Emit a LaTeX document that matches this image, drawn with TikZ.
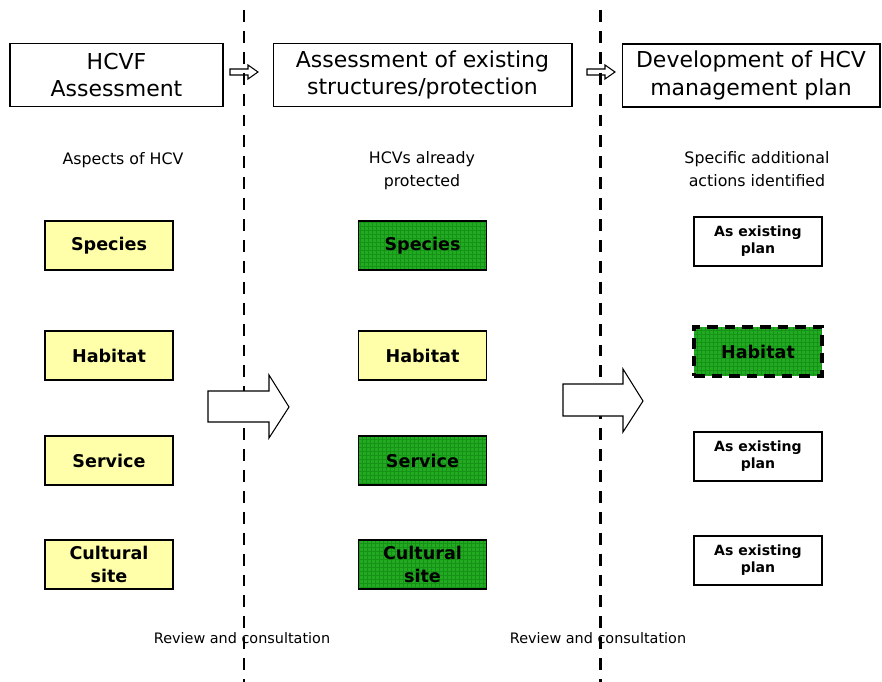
\documentclass[tikz,border=0pt]{standalone}
\usepackage{fontspec}
\setmainfont{DejaVu Sans}
\definecolor{paleyellow}{RGB}{255,255,170}
\definecolor{hcvgreen}{RGB}{34,170,34}
\begin{document}
\begin{tikzpicture}[x=0.02cm,y=-0.02cm,
	head/.style={draw,line width=0.6pt,minimum height=1.26cm,align=center,font=\fontsize{12.5}{15.5}\selectfont},
	aspect/.style={draw,line width=0.6pt,fill=paleyellow,minimum width=2.56cm,minimum height=0.98cm,align=center,font=\bfseries\fontsize{10}{13.5}\selectfont},
	kept/.style={aspect,fill=hcvgreen,path picture={\draw[solid,green!40!black,opacity=0.35,line width=0.3pt,step=0.08cm] (path picture bounding box.south west) grid (path picture bounding box.north east);}},
	extra/.style={draw,line width=0.6pt,minimum width=2.56cm,minimum height=0.98cm,align=center,font=\bfseries\fontsize{8}{9.8}\selectfont},
	caption/.style={align=center,font=\fontsize{9}{13}\selectfont},
	note/.style={font=\fontsize{8.2}{9}\selectfont},
	divide/.style={line width=1.7pt,dash pattern=on 6.8pt off 5.1pt},
	blockarrow/.style={draw,line width=0.6pt,fill=white}]
	\useasboundingbox (0,0) rectangle (882,682);

	% headers
	\node[head,minimum width=4.26cm] (hcvf) at (116.5,75) {HCVF\\Assessment};
	\node[head,minimum width=5.98cm] (exist) at (422.5,75) {Assessment of existing\\structures/protection};
	\node[head,minimum width=5.16cm] (plan) at (751,75.5) {Development of HCV\\management plan};
	\draw[blockarrow] (230,69) -- (248,69) -- (248,65) -- (258,72) -- (248,79) -- (248,75) -- (230,75) -- cycle;
	\draw[blockarrow] (587,69) -- (605,69) -- (605,65) -- (615,72) -- (605,79) -- (605,75) -- (587,75) -- cycle;

	% column captions
	\node[caption] (aspects) at (123,160) {Aspects of HCV};
	\node[caption] (protected) at (422,171) {HCVs already\\protected};
	\node[caption] (actions) at (757,169) {Specific additional\\actions identified};

	% aspects of HCV
	\node[aspect] (species1) at (109,245.5) {Species};
	\node[aspect] (habitat1) at (109,355.5) {Habitat};
	\node[aspect] (service1) at (109,460.5) {Service};
	\node[aspect] (culture1) at (109,564.5) {Cultural\\site};

	% already protected
	\node[kept] (species2) at (422.5,245.5) {Species};
	\node[aspect] (habitat2) at (422.5,355.5) {Habitat};
	\node[kept] (service2) at (422.5,460.5) {Service};
	\node[kept] (culture2) at (422.5,564.5) {Cultural\\site};

	% additional actions
	\node[extra] (species3) at (758,241.5) {As existing\\plan};
	\node[kept,line width=2.2pt,dash pattern=on 6pt off 4pt] (habitat3) at (758,351.5) {Habitat};
	\node[extra] (service3) at (758,456.5) {As existing\\plan};
	\node[extra] (culture3) at (758,560.5) {As existing\\plan};

	\node[note] (review1) at (242,638) {Review and consultation};
	\node[note] (review2) at (598,638) {Review and consultation};

	\draw[divide] (244,10) -- (244,682);
	\draw[divide] (600,10) -- (600,682);

	\draw[blockarrow] (208,391) -- (269,391) -- (269,375) -- (289,407) -- (269,438) -- (269,422) -- (208,422) -- cycle;
	\draw[blockarrow] (563,384) -- (623,384) -- (623,369) -- (643,401) -- (623,432) -- (623,416) -- (563,416) -- cycle;
\end{tikzpicture}
\end{document}
